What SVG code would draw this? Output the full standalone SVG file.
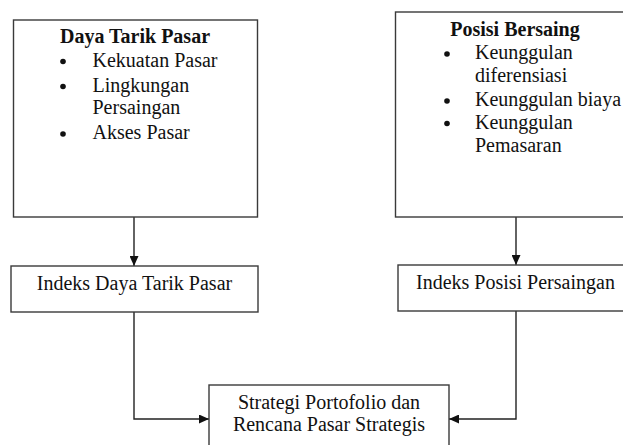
<svg xmlns="http://www.w3.org/2000/svg" width="623" height="445" viewBox="0 0 623 445" font-family="'Liberation Serif', 'Times New Roman', serif">
<defs>
<style>
.box{fill:#fff;stroke:#3a3a3a;stroke-width:1.4}
.t{font-family:"Liberation Serif","Times New Roman",serif;font-size:20px;fill:#111}
.b{font-weight:bold}
.m{text-anchor:middle}
.dot{fill:#111}
.c{fill:none;stroke:#222;stroke-width:1.4}
</style>
<marker id="ah" markerUnits="userSpaceOnUse" markerWidth="10" markerHeight="9" refX="10" refY="4.5" orient="auto">
<path d="M0,0 L10,4.5 L0,9 z" fill="#111"/>
</marker>
</defs>
<rect width="623" height="445" fill="#fff"/>
<g id="connectors">
<line class="c" x1="134" y1="217" x2="134" y2="266" marker-end="url(#ah)"/>
<line class="c" x1="516" y1="217" x2="516" y2="265" marker-end="url(#ah)"/>
<path class="c" d="M134,312 V419 H209" marker-end="url(#ah)"/>
<path class="c" d="M516,311 V419 H449" marker-end="url(#ah)"/>
</g>
<g id="daya-tarik-pasar">
<rect class="box" x="13.5" y="20" width="244" height="197"/>
<text class="t b m" x="135" y="43">Daya Tarik Pasar</text>
<circle class="dot" cx="63" cy="61.5" r="2.8"/>
<text class="t" x="92.5" y="66.5">Kekuatan Pasar</text>
<circle class="dot" cx="63" cy="86.5" r="2.8"/>
<text class="t" x="92.5" y="91.5">Lingkungan</text>
<text class="t" x="92.5" y="113.5">Persaingan</text>
<circle class="dot" cx="63" cy="134" r="2.8"/>
<text class="t" x="92.5" y="139">Akses Pasar</text>
</g>
<g id="posisi-bersaing">
<rect class="box" x="395.5" y="12" width="240" height="205"/>
<text class="t b m" x="515" y="35.5">Posisi Bersaing</text>
<circle class="dot" cx="447" cy="54" r="2.8"/>
<text class="t" x="475" y="59">Keunggulan</text>
<text class="t" x="475" y="82">diferensiasi</text>
<circle class="dot" cx="447" cy="101" r="2.8"/>
<text class="t" x="475" y="106">Keunggulan biaya</text>
<circle class="dot" cx="447" cy="123.5" r="2.8"/>
<text class="t" x="475" y="128.5">Keunggulan</text>
<text class="t" x="475" y="151.5">Pemasaran</text>
</g>
<g id="indeks-daya-tarik">
<rect class="box" x="11" y="266" width="247" height="46"/>
<text class="t m" x="134.5" y="290">Indeks Daya Tarik Pasar</text>
</g>
<g id="indeks-posisi">
<rect class="box" x="398" y="265" width="240" height="46"/>
<text class="t" x="416" y="289">Indeks Posisi Persaingan</text>
</g>
<g id="strategi">
<rect class="box" x="209" y="385" width="240" height="70"/>
<text class="t m" x="329" y="409">Strategi Portofolio dan</text>
<text class="t m" x="329" y="431">Rencana Pasar Strategis</text>
</g>
</svg>
